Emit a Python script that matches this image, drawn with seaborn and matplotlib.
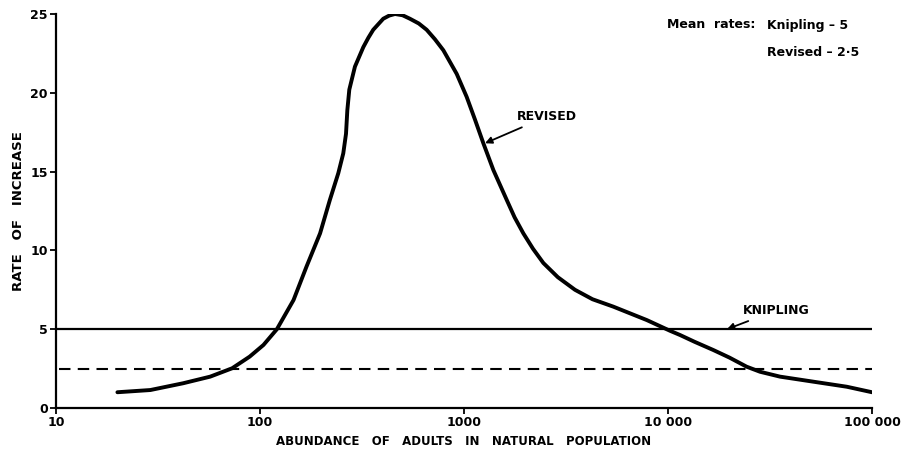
import matplotlib
matplotlib.use("Agg")
import matplotlib.pyplot as plt
import seaborn as sns
import pandas as pd

# ---- data ----
abundance = [20, 29, 42, 57, 73, 89, 104, 121, 146, 169, 197, 220, 242, 256, 264, 268,
             274, 292, 321, 340, 359, 402, 430, 459, 500, 543, 600, 656, 720, 792, 921,
             1030, 1132, 1244, 1393, 1620, 1770, 1954, 2180, 2449, 2884, 3500, 4266,
             5397, 7870, 10230, 11460, 13500, 16670, 20000, 24300, 28250, 35400, 51560,
             75200, 100000]
revised_rate = [1.0, 1.14, 1.57, 1.99, 2.52, 3.26, 4.0, 5.0, 6.85, 8.97, 11.08, 13.2, 14.9,
                16.16, 17.4, 18.9, 20.2, 21.66, 22.9, 23.5, 24.0, 24.7, 24.9, 25.0, 24.92,
                24.7, 24.4, 24.0, 23.4, 22.7, 21.2, 19.75, 18.3, 16.8, 15.1, 13.2, 12.1,
                11.08, 10.1, 9.2, 8.3, 7.5, 6.9, 6.43, 5.58, 4.9, 4.63, 4.2, 3.68, 3.2,
                2.62, 2.3, 1.99, 1.67, 1.35, 1.0]
knipling_rate = 5
revised_mean = 2.5
x_ticks = [10, 100, 1000, 10000, 100000]
x_tick_labels = ["10", "100", "1000", "10 000", "100 000"]
y_ticks = [0, 5, 10, 15, 20, 25]

df = pd.DataFrame({"abundance": abundance, "rate": revised_rate})

sns.set_style("ticks")
plt.rcParams["font.family"] = ["DejaVu Sans"]
plt.rcParams["font.weight"] = "bold"
for key in ["text.color", "axes.labelcolor", "xtick.color", "ytick.color", "axes.edgecolor"]:
    plt.rcParams[key] = "black"

fig = plt.figure(figsize=(9.03, 4.59), dpi=100)
ax = fig.add_axes([56 / 903, 1 - 408 / 459, (872 - 56) / 903, (408 - 14) / 459])

sns.lineplot(data=df, x="abundance", y="rate", ax=ax, color="black", linewidth=2.8,
             solid_capstyle="round", solid_joinstyle="round")
ax.axhline(knipling_rate, color="black", linewidth=1.6)
ax.axhline(revised_mean, xmin=0.004, color="black", linewidth=1.5, dashes=(5.5, 3.5))

ax.set_xscale("log")
ax.set_xlim(10, 100000)
ax.set_ylim(0, 25)
ax.set_xticks(x_ticks)
ax.set_xticklabels(x_tick_labels)
ax.minorticks_off()
ax.set_yticks(y_ticks)
ax.set_yticklabels([str(v) for v in y_ticks])

for s in ["top", "right"]:
    ax.spines[s].set_visible(False)
for s in ["left", "bottom"]:
    ax.spines[s].set_linewidth(1.6)
    ax.spines[s].set_color("black")
ax.tick_params(axis="both", direction="out", length=4, width=1.3, colors="black",
               labelsize=9, pad=2)
for lbl in ax.get_xticklabels() + ax.get_yticklabels():
    lbl.set_fontweight("bold")

ax.set_xlabel("ABUNDANCE   OF   ADULTS   IN   NATURAL   POPULATION", fontsize=8.5,
              fontweight="bold", labelpad=4)
ax.set_ylabel("RATE   OF   INCREASE", fontsize=9.5, fontweight="bold", labelpad=4)

ax.annotate("REVISED", xy=(1268, 16.8), xytext=(1820, 18.5), fontsize=9,
            fontweight="bold", va="center", ha="left",
            arrowprops=dict(arrowstyle="-|>", color="black", lw=1.3,
                            shrinkA=2, shrinkB=0, mutation_scale=10))
ax.annotate("KNIPLING", xy=(19460, 5.0), xytext=(23330, 6.2), fontsize=9,
            fontweight="bold", va="center", ha="left",
            arrowprops=dict(arrowstyle="-|>", color="black", lw=1.3,
                            shrinkA=2, shrinkB=0, mutation_scale=10))

fig.text(667 / 903, 1 - 25 / 459, "Mean  rates:", fontsize=9, fontweight="bold",
         ha="left", va="center")
fig.text(767 / 903, 1 - 25 / 459, "Knipling – 5", fontsize=9, fontweight="bold",
         ha="left", va="center")
fig.text(767 / 903, 1 - 52 / 459, "Revised – 2·5", fontsize=9, fontweight="bold",
         ha="left", va="center")

fig.savefig("out.png", dpi=100, facecolor="white")
